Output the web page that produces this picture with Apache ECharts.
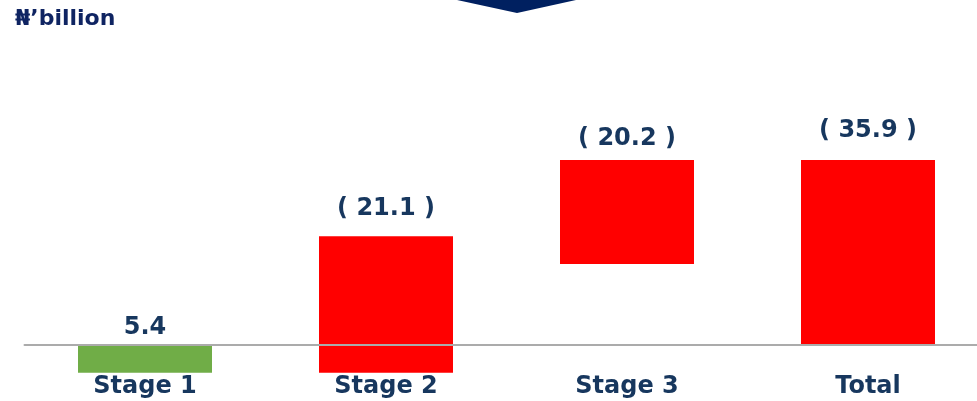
<!DOCTYPE html>
<html>
<head>
<meta charset="utf-8">
<script src="https://cdn.jsdelivr.net/npm/echarts@6/dist/echarts.min.js"></script>
<style>
  html, body { margin: 0; padding: 0; background: #ffffff; }
  #chart { width: 977px; height: 401px; }
</style>
</head>
<body>
<div id="chart"></div>
<script>
// ---- data ----
var categories = ['Stage 1', 'Stage 2', 'Stage 3', 'Total'];
var amounts    = [5.4, -21.1, -20.2, -35.9];   // shown values; negatives in brackets
var barLows    = [-5.4, -5.4, 15.7, 0];        // bar bottom (axis units, up = loss)
var barHighs   = [0, 21.1, 35.9, 35.9];        // bar top
var unitLabel  = '\u20A6\u2019billion';

// ---- styling ----
var barColors  = ['#70AD47', '#FF0000', '#FF0000', '#FF0000'];
var labelGaps  = [17, 28, 21, 29];
var textColor  = '#17375E';

function fmt(v) {
  return v < 0 ? '( ' + Math.abs(v).toFixed(1) + ' )' : v.toFixed(1);
}

var seriesData = categories.map(function (c, i) {
  return [i, barLows[i], barHighs[i], amounts[i]];
});

var chart = echarts.init(document.getElementById('chart'), null, { renderer: 'canvas' });
chart.setOption({
  animation: false,
  backgroundColor: '#ffffff',
  grid: {
    left: 24.5, width: 964, top: 87.35, height: 257.65,
    containLabel: false, outerBoundsMode: 'none'
  },
  xAxis: {
    type: 'category',
    data: categories,
    z: 5,
    axisLine: { show: true, onZero: false, lineStyle: { color: '#ABABAB', width: 2 } },
    axisTick: { show: false },
    axisLabel: {
      margin: 30,
      color: textColor,
      fontSize: 24,
      fontWeight: 'bold',
      fontFamily: 'DejaVu Sans'
    },
    splitLine: { show: false }
  },
  yAxis: {
    type: 'value',
    min: 0,
    max: 50,
    show: false,
    splitLine: { show: false }
  },
  graphic: [
    {
      type: 'text',
      left: 15,
      top: 8,
      style: {
        text: unitLabel,
        fill: '#0F2462',
        font: 'bold 22px "DejaVu Sans"'
      }
    },
    {
      type: 'polygon',
      shape: { points: [[457, 0], [576, 0], [517, 13]] },
      style: { fill: '#002060' }
    }
  ],
  series: [{
    type: 'custom',
    clip: false,
    z: 1,
    data: seriesData,
    encode: { x: 0, y: [1, 2] },
    renderItem: function (params, api) {
      var i = api.value(0);
      var lo = api.value(1), hi = api.value(2);
      var top = api.coord([i, Math.max(lo, hi)]);
      var bot = api.coord([i, Math.min(lo, hi)]);
      var w = api.size([1, 0])[0] * 0.556;
      return {
        type: 'group',
        children: [
          {
            type: 'rect',
            shape: { x: top[0] - w / 2, y: top[1], width: w, height: bot[1] - top[1] },
            style: { fill: barColors[i] }
          },
          {
            type: 'text',
            style: {
              text: fmt(api.value(3)),
              x: top[0],
              y: top[1] - labelGaps[i],
              align: 'center',
              verticalAlign: 'middle',
              fill: textColor,
              font: 'bold 24px "DejaVu Sans"'
            }
          }
        ]
      };
    }
  }]
});
</script>
</body>
</html>
